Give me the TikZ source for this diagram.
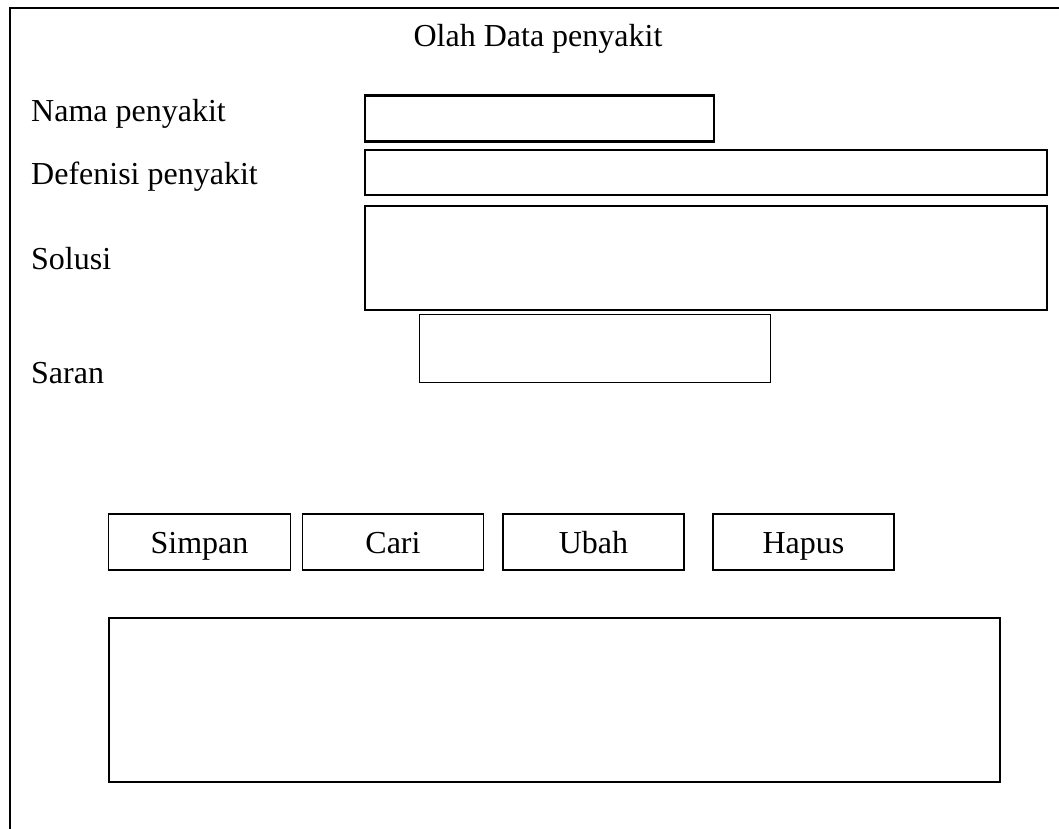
\documentclass[tikz,border=0pt]{standalone}
\usepackage{fontspec}
\setmainfont{Liberation Serif}
\begin{document}
\begin{tikzpicture}[x=1pt,y=-1pt,
  frame/.style={draw=black,line width=2.4pt},
  field/.style={draw=black,line width=2.4pt,inner sep=0pt,anchor=north west},
  thinfield/.style={draw=black,line width=1.3pt,inner sep=0pt,anchor=north west},
  btn/.style={draw=black,line width=1.9pt,inner sep=0pt,anchor=north west,
    minimum height=56pt,text height=26pt,text depth=2pt,
    font=\fontsize{32}{38}\selectfont},
  lbl/.style={anchor=base west,inner sep=0pt,font=\fontsize{32}{38}\selectfont},
  ttl/.style={anchor=base,inner sep=0pt,font=\fontsize{32}{38}\selectfont}]
\useasboundingbox (0,0) rectangle (1059,829);
\begin{scope}
\clip (0,0) rectangle (1059,829);
% form window, running off the right and bottom edges
\draw[frame] (10,8) rectangle (1080,850);
\end{scope}

% title
\node[ttl] (title) at (538,47) {Olah Data penyakit};

% labels
\node[lbl] (lnama) at (31,122) {Nama penyakit};
\node[lbl] (ldef) at (31,184) {Defenisi penyakit};
\node[lbl] (lsol) at (31,269) {Solusi};
\node[lbl] (lsaran) at (31,383) {Saran};

% input fields
\node[field,minimum width=349pt,minimum height=46pt] (fnama) at (364,94.5) {};
\node[field,minimum width=682pt,minimum height=45pt] (fdef) at (364,149) {};
\node[field,minimum width=682pt,minimum height=104pt] (fsol) at (364,205) {};
\node[thinfield,minimum width=351pt,minimum height=68pt] (fsaran) at (419,314) {};

% buttons
\node[btn,minimum width=182pt] (simpan) at (107.5,513) {Simpan};
\node[btn,minimum width=181pt] (cari) at (301.5,513) {Cari};
\node[btn,minimum width=181pt] (ubah) at (502,513) {Ubah};
\node[btn,minimum width=181pt] (hapus) at (712,513) {Hapus};

% data grid
\node[field,minimum width=891pt,minimum height=164pt] (grid) at (107.5,616.5) {};
\end{tikzpicture}
\end{document}
